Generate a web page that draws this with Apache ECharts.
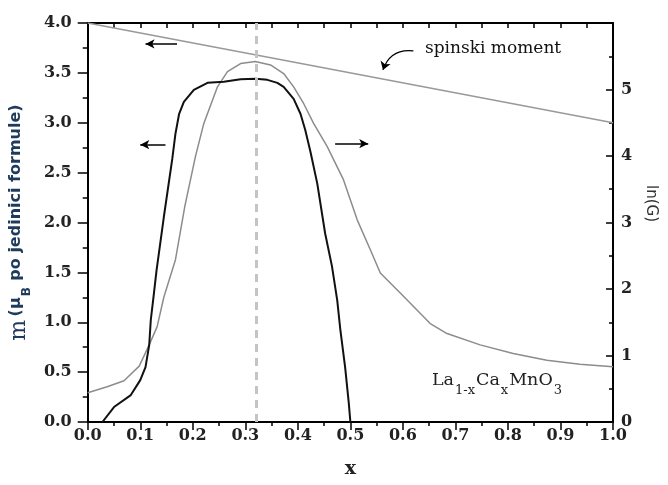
<!DOCTYPE html>
<html>
<head>
<meta charset="utf-8">
<script src="https://cdn.jsdelivr.net/npm/echarts@6/dist/echarts.min.js"></script>
<style>
html, body { margin: 0; padding: 0; background: #fff; }
#main { width: 668px; height: 485px; }
</style>
</head>
<body>
<div id="main"></div>
<script>
// magnetni moment m (lijeva os)
var mX = [0.028, 0.05, 0.082, 0.10, 0.11, 0.117, 0.12, 0.126, 0.131, 0.145, 0.161, 0.167, 0.174, 0.183,
          0.202, 0.228, 0.259, 0.291, 0.32, 0.342, 0.361, 0.373, 0.392, 0.405, 0.414, 0.424, 0.437,
          0.452, 0.465, 0.475, 0.481, 0.49, 0.497, 0.5];
var mVal = [0, 0.15, 0.27, 0.42, 0.55, 0.77, 1.02, 1.29, 1.52, 2.06, 2.64, 2.89, 3.09, 3.21,
            3.33, 3.40, 3.41, 3.435, 3.44, 3.43, 3.40, 3.36, 3.24, 3.09, 2.93, 2.71, 2.39,
            1.89, 1.56, 1.22, 0.92, 0.55, 0.19, 0];

// ln(G) (desna os)
var gX = [0, 0.037, 0.069, 0.098, 0.117, 0.132, 0.145, 0.167, 0.185, 0.205, 0.221, 0.247, 0.266,
          0.291, 0.319, 0.348, 0.373, 0.392, 0.411, 0.43, 0.456, 0.487, 0.513, 0.538, 0.557,
          0.595, 0.652, 0.684, 0.747, 0.81, 0.874, 0.937, 1.0];
var gVal = [0.44, 0.53, 0.62, 0.84, 1.16, 1.43, 1.88, 2.44, 3.25, 3.99, 4.49, 5.04, 5.27,
            5.39, 5.42, 5.37, 5.24, 5.04, 4.79, 4.49, 4.14, 3.64, 3.04, 2.59, 2.24,
            1.94, 1.48, 1.33, 1.16, 1.03, 0.93, 0.87, 0.83];

// spinski moment
var spinX = [0, 1.0];
var spinVal = [4.0, 3.0];

var xDash = 0.32;

function zip(a, b) {
    var out = [];
    for (var i = 0; i < a.length; i++) out.push([a[i], b[i]]);
    return out;
}

var tickFont = {
    fontFamily: 'DejaVu Serif',
    fontWeight: 'bold',
    fontSize: 16,
    color: '#222'
};

var option = {
    animation: false,
    backgroundColor: '#fff',
    grid: { left: 87, right: 55, top: 23, bottom: 63 },
    xAxis: [
        {
            type: 'value',
            min: 0, max: 1, interval: 0.1,
            name: 'x',
            nameLocation: 'middle',
            nameGap: 38,
            nameTextStyle: { fontFamily: 'DejaVu Serif', fontWeight: 'bold', fontSize: 19, color: '#222' },
            axisLine: { onZero: false, lineStyle: { color: '#000', width: 2 } },
            axisTick: { inside: false, length: 8, lineStyle: { color: '#000', width: 1.5 } },
            minorTick: { show: true, splitNumber: 2, length: 4, lineStyle: { color: '#000', width: 1.5 } },
            axisLabel: Object.assign({ margin: 6, formatter: function (v) { return v.toFixed(1); } }, tickFont),
            splitLine: { show: false }
        },
        {
            type: 'value',
            position: 'top',
            min: 0, max: 1, interval: 0.05,
            axisLine: { onZero: false, lineStyle: { color: '#000', width: 2 } },
            axisTick: { inside: true, length: 5, lineStyle: { color: '#000', width: 1.5 } },
            axisLabel: { show: false },
            splitLine: { show: false }
        }
    ],
    yAxis: [
        {
            type: 'value',
            min: 0, max: 4, interval: 0.5,
            name: '{m|m} {s|(\u03bc}{b|B}{s| po jedinici formule)}',
            nameLocation: 'middle',
            nameRotate: 90,
            nameGap: 56,
            nameTextStyle: {
                color: '#1f3b5b',
                rich: {
                    m: { fontFamily: 'DejaVu Serif', fontSize: 22, color: '#1f3b5b', lineHeight: 22, verticalAlign: 'top' },
                    s: { fontFamily: 'DejaVu Sans', fontWeight: 'bold', fontSize: 16, color: '#1f3b5b', lineHeight: 22, verticalAlign: 'top' },
                    b: { fontFamily: 'DejaVu Sans', fontWeight: 'bold', fontSize: 12, color: '#1f3b5b', lineHeight: 12, padding: [13, 1, 0, 1], verticalAlign: 'top' }
                }
            },
            axisLine: { onZero: false, lineStyle: { color: '#000', width: 2 } },
            axisTick: { inside: false, length: 10, lineStyle: { color: '#000', width: 1.5 } },
            minorTick: { show: true, splitNumber: 2, length: 5, lineStyle: { color: '#000', width: 1.5 } },
            axisLabel: Object.assign({ margin: 16, formatter: function (v) { return v.toFixed(1); } }, tickFont),
            splitLine: { show: false }
        },
        {
            type: 'value',
            position: 'right',
            min: 0, max: 6, interval: 1,
            name: 'ln(G)',
            nameLocation: 'middle',
            nameRotate: -90,
            nameGap: 22,
            nameTextStyle: { fontFamily: 'DejaVu Sans', fontSize: 15, color: '#333', padding: [0, 38, 0, 0] },
            axisLine: { onZero: false, lineStyle: { color: '#000', width: 2 } },
            axisTick: { inside: true, length: 7, lineStyle: { color: '#000', width: 1.5 } },
            minorTick: { show: true, splitNumber: 2, length: 4, lineStyle: { color: '#000', width: 1.5 } },
            axisLabel: Object.assign({ margin: 8, showMaxLabel: false }, tickFont),
            splitLine: { show: false }
        }
    ],
    graphic: [
        {
            type: 'text',
            left: 425, top: 40,
            style: { text: 'spinski moment', fontFamily: 'DejaVu Serif', fontSize: 17, fill: '#111' }
        },
        {
            type: 'text',
            left: 432, top: 371,
            style: {
                text: '{n|La}{s|1-x}{n|Ca}{s|x}{n|MnO}{s|3}',
                rich: {
                    n: { fontFamily: 'DejaVu Serif', fontSize: 17.5, fill: '#222', lineHeight: 21, verticalAlign: 'top' },
                    s: { fontFamily: 'DejaVu Serif', fontSize: 13, fill: '#222', lineHeight: 13, padding: [13, 1, 0, 1], verticalAlign: 'top' }
                }
            }
        }
    ],
    series: [
        {
            name: 'spinski moment',
            type: 'line',
            xAxisIndex: 0, yAxisIndex: 0,
            data: zip(spinX, spinVal),
            showSymbol: false,
            lineStyle: { color: '#999', width: 1.5 },
            z: 2
        },
        {
            // zakrivljena strelica prema liniji spinskog momenta
            name: 'pointer',
            type: 'lines',
            coordinateSystem: 'cartesian2d',
            xAxisIndex: 0, yAxisIndex: 0,
            silent: true,
            symbol: ['none', 'arrow'],
            symbolSize: 8,
            lineStyle: { color: '#000', width: 1.2, curveness: -0.4, opacity: 1 },
            data: [{ coords: [[0.62, 3.72], [0.562, 3.53]] }],
            z: 5
        },
        {
            name: 'ln(G)',
            type: 'line',
            xAxisIndex: 0, yAxisIndex: 1,
            data: zip(gX, gVal),
            showSymbol: false,
            lineStyle: { color: '#8c8c8c', width: 1.5 },
            z: 3,
            markLine: {
                silent: true,
                symbol: ['none', 'none'],
                label: { show: false },
                lineStyle: { color: '#c4c4c4', width: 3, type: [8, 6] },
                data: [{ xAxis: xDash }]
            }
        },
        {
            name: 'm',
            type: 'line',
            xAxisIndex: 0, yAxisIndex: 0,
            data: zip(mX, mVal),
            showSymbol: false,
            lineStyle: { color: '#111', width: 2 },
            z: 4,
            markLine: {
                silent: true,
                symbol: ['none', 'arrow'],
                symbolSize: [7, 9],
                label: { show: false },
                lineStyle: { color: '#000', width: 1.5, type: 'solid' },
                data: [
                    [{ coord: [0.17, 3.79] }, { coord: [0.11, 3.79] }],
                    [{ coord: [0.148, 2.78] }, { coord: [0.10, 2.78] }],
                    [{ coord: [0.471, 2.79] }, { coord: [0.534, 2.79] }]
                ]
            }
        }
    ]
};

var chart = echarts.init(document.getElementById('main'));
chart.setOption(option);
</script>
</body>
</html>
